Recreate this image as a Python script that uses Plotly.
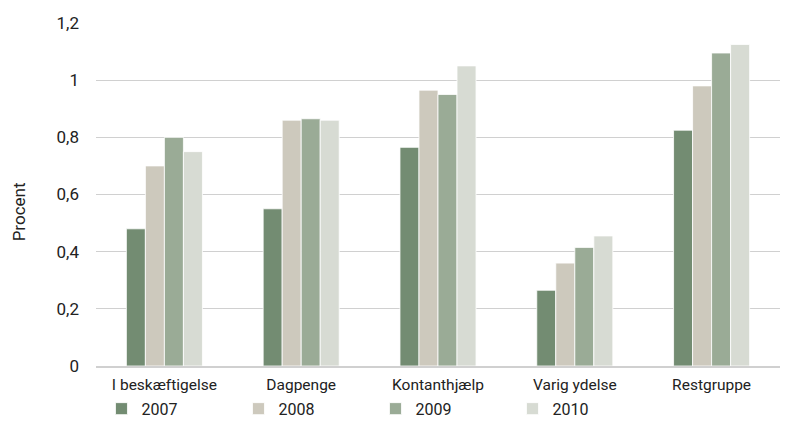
import plotly.graph_objects as go

categories = ["I beskæftigelse", "Dagpenge", "Kontanthjælp", "Varig ydelse", "Restgruppe"]
years = ["2007", "2008", "2009", "2010"]
v2007 = [0.48, 0.55, 0.765, 0.265, 0.825]
v2008 = [0.70, 0.86, 0.965, 0.36, 0.98]
v2009 = [0.80, 0.865, 0.95, 0.415, 1.095]
v2010 = [0.75, 0.86, 1.05, 0.455, 1.125]
colors = ["#738c72", "#cdc9bd", "#9aab96", "#d7dbd3"]
tick_vals = [0, 0.2, 0.4, 0.6, 0.8, 1, 1.2]
tick_text = ["0", "0,2", "0,4", "0,6", "0,8", "1", "1,2"]

fig = go.Figure()
for name, vals, c in zip(years, [v2007, v2008, v2009, v2010], colors):
    fig.add_trace(go.Bar(name=name, x=categories, y=vals, marker=dict(color=c, line=dict(color="white", width=0.8))))

font = "Roboto"
fig.update_layout(
    width=793, height=426,
    margin=dict(l=96, r=13, t=23, b=60, autoexpand=False),
    paper_bgcolor="white", plot_bgcolor="white",
    barmode="group", bargap=0.444, bargroupgap=0,
    font=dict(family=font, size=15, color="#222222"),
    showlegend=True,
    legend=dict(orientation="h", x=0.008, y=-0.075, xanchor="left", yanchor="top",
                bgcolor="rgba(0,0,0,0)",
                entrywidth=92, entrywidthmode="pixels",
                font=dict(size=16, color="#222222"), itemwidth=30, tracegroupgap=0),
    xaxis=dict(showgrid=False, showline=True, linecolor="#d0d0d0", linewidth=2,
               ticks="", tickfont=dict(size=15.5), automargin=False, ticklabelstandoff=3),
    yaxis=dict(range=[0, 1.2], tickvals=tick_vals, ticktext=tick_text,
               showgrid=True, gridcolor="#d0d0d0", gridwidth=1, zeroline=False,
               showline=False, ticks="", ticklabelstandoff=16, automargin=False,
               tickfont=dict(size=17)),
    annotations=[dict(text="Procent", xref="paper", yref="paper", x=-0.113, y=0.45,
                      xanchor="center", yanchor="middle", textangle=-90, showarrow=False,
                      font=dict(size=17))],
)
fig.write_html("out.html", post_script="document.body.style.margin='0';",
               config={"displayModeBar": False})
